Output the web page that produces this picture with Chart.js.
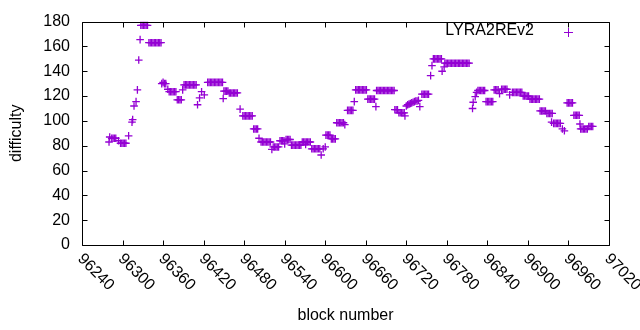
<!DOCTYPE html>
<html>
<head>
<meta charset="utf-8">
<script src="https://cdn.jsdelivr.net/npm/chart.js@4.4.1/dist/chart.umd.min.js"></script>
<style>
html,body{margin:0;padding:0;background:#fff;}
#wrap{width:640px;height:330px;position:relative;}
</style>
</head>
<body>
<div id="wrap"><canvas id="c" width="640" height="330"></canvas></div>
<script>
// ---- data ----
const seriesName = "LYRA2REv2";
const xTicks = [96240,96300,96360,96420,96480,96540,96600,96660,96720,96780,96840,96900,96960,97020];
const yTicks = [0,20,40,60,80,100,120,140,160,180];
const blocks = [
96280,96281,96284,96286,96288,96290,96294,
96297,96299,96301,96303,96305,96309,
96314,96315,96317,96320,96322,96324,96326,
96327,96329,96331,96333,96335,96337,
96339,96341,96343,96345,96347,96349,96351,96353,96355,96357,
96358,96360,96362,96364,96367,
96369,96371,96373,96375,96377,96379,
96381,96383,96385,96387,96389,
96391,96393,96395,96397,96399,96401,96403,96405,96407,96409,
96411,96414,96417,96421,
96426,96428,96430,96432,96434,96436,96438,96440,96442,96444,96446,96448,
96449,96450,96452,96454,96456,
96458,96460,96462,96464,96466,96468,96470,
96474,96478,96480,96482,96484,96486,96488,96490,96492,
96494,96496,96498,96500,96502,
96505,96507,96509,96511,96513,96515,96517,96519,
96521,96523,96525,96527,96529,96531,
96533,96535,96537,96539,96540,
96542,96544,96546,96548,
96550,96552,96554,96556,96558,96560,96562,96564,
96566,96568,96570,96571,96572,96574,96576,96578,
96580,96582,96584,96586,96588,96590,96592,
96594,96597,96600,
96601,96603,96605,96607,96609,96611,96613,96615,
96617,96619,96621,96623,96625,96627,96629,
96633,96635,96637,96639,96641,96643,
96645,96647,96649,96651,96653,96655,96657,96659,96661,
96663,96665,96667,96669,96671,96673,96675,
96676,96678,96680,96682,96684,96686,96688,96690,96692,96694,96696,96698,96700,96702,
96703,96705,96707,96709,96711,96713,96715,96717,96718,
96720,96722,96724,96726,96728,96730,96732,96734,96736,96738,96740,
96743,96745,96747,96749,96751,96753,
96756,96758,
96760,96762,96764,96766,96768,96770,96772,96773,96776,
96777,96779,96781,96783,96785,96787,96789,96791,96793,96795,96797,96799,96801,96803,96805,96807,96809,96811,96813,
96818,96819,96822,96824,
96826,96828,96830,96832,96834,96836,
96838,96840,96842,96844,96846,96848,
96850,96852,96854,96856,96858,
96861,96863,96865,96867,96869,96873,
96877,96879,96881,96883,96885,96887,96889,96891,
96893,96895,96897,96899,96901,
96903,96905,96907,96909,96911,96913,96915,96917,
96918,96920,96922,96924,96926,
96928,96930,96932,96934,96936,96935,
96938,96940,96942,96944,96946,96948,96951,96954,
96958,96960,96962,96964,96966,
96968,96970,96972,96974,96976,96977,
96978,96980,96982,96984,96986,96988,
96990,96992,96994,96996
];
const difficulty = [
83,87,86,86,86,86,84,
82,82,82,82,82,88,
99,101,112,115.5,125,149,165.5,
177,177,177,177,177,177,
163,163,163,163,163,163,163,163,163,163,
130,131,130,130,125.5,
123.5,123.5,123.5,123.5,123.5,123.5,
117,117,117,117,125,
129,129,129,129,129,129,129,129,129,129,
113,118.5,123.5,121,
131,131,131,131,131,131,131,131,131,131,131,131,
118,124,124,124,124,
122.5,122.5,122.5,122.5,122.5,122.5,122.5,
109.5,104,104,104,104,104,104,104,104,
93.5,93.5,93.5,93.5,86,
83,83,83,83,83,83,83,83,
77,79,79,79,79,79,
84,84,84,84,81.5,
85,85,85,85,
80.5,80.5,80.5,80.5,80.5,80.5,80.5,80.5,
83,83,83,81,83,83,83,83,
77.5,77.5,77.5,77.5,77.5,77.5,77.5,
72.5,77.5,79,
88.5,88.5,88.5,88.5,85.5,85.5,85.5,85.5,
98.5,98.5,98.5,98.5,98.5,98.5,97,
108.5,108.5,108.5,108.5,108.5,115.5,
125,125,125,125,125,125,125,125,125,
117.5,117.5,117.5,117.5,117.5,117.5,111.5,
124.5,124.5,124.5,124.5,124.5,124.5,124.5,124.5,124.5,124.5,124.5,124.5,124.5,124.5,
109,109,109,106.5,106.5,106.5,106.5,106.5,104,
112,113,113.5,114,114.5,115,115.5,116,116,116.5,111.5,
121.5,121.5,121.5,121.5,121.5,121.5,
136.5,144.5,
150,150,150,150,150,150,150,140,143.5,
146.5,146.5,146.5,146.5,146.5,146.5,146.5,146.5,146.5,146.5,146.5,146.5,146.5,146.5,146.5,146.5,146.5,146.5,146.5,
110,115,119.5,123,
124.5,124.5,124.5,124.5,124.5,124.5,
115.5,115.5,115.5,115.5,115.5,115.5,
125,125,125,125,122,
125.5,125.5,125.5,125.5,125.5,121,
123,123,123,123,123,123,123,123,
120,120,120,120,120,
117.5,117.5,117.5,117.5,117.5,117.5,117.5,117.5,
108,108,108,108,108,
106,106,106,106,106,99,
98,98,98,98,98,98,93.5,92,
114.5,114.5,114.5,114.5,114.5,
104.5,104.5,104.5,104.5,104.5,97.5,
93.5,93.5,93.5,93.5,93.5,93.5,
95.5,95.5,95.5,95.5
];
const xTitle = "block number";
const yTitle = "difficulty";
// ---------------------------------------------

const COLOR = '#9400d3';
const FONT = '"Liberation Sans", Arial, sans-serif';
const FS = 16;

const points = blocks.map((b, i) => ({x: b, y: difficulty[i]}));

const framePlugin = {
  id: 'frame',
  afterDraw(chart) {
    const ctx = chart.ctx;
    const xs = chart.scales.x, ys = chart.scales.y;
    const a = chart.chartArea;
    const L = Math.round(a.left) + 0.5, R = Math.round(a.right) + 0.5;
    const T = Math.round(a.top) + 0.5, B = Math.round(a.bottom) + 0.5;
    ctx.save();
    ctx.strokeStyle = '#000';
    ctx.lineWidth = 1;
    ctx.beginPath();
    ctx.rect(L, T, R - L, B - T);
    const tl = 5;
    xTicks.forEach(v => {
      const px = Math.round(xs.getPixelForValue(v)) + 0.5;
      ctx.moveTo(px, B); ctx.lineTo(px, B - tl);
      ctx.moveTo(px, T); ctx.lineTo(px, T + tl);
    });
    yTicks.forEach(v => {
      const py = Math.round(ys.getPixelForValue(v)) + 0.5;
      ctx.moveTo(L, py); ctx.lineTo(L + tl, py);
      ctx.moveTo(R, py); ctx.lineTo(R - tl, py);
    });
    ctx.stroke();

    ctx.fillStyle = '#000';
    ctx.font = FS + 'px ' + FONT;
    // x tick labels rotated -45 (reading downward)
    xTicks.forEach(v => {
      const px = xs.getPixelForValue(v);
      ctx.save();
      ctx.translate(px - 2, B + 11);
      ctx.rotate(Math.PI / 4);
      ctx.textAlign = 'left';
      ctx.textBaseline = 'middle';
      ctx.fillText(String(v), 0, 0);
      ctx.restore();
    });
    // axis titles
    ctx.textAlign = 'center';
    ctx.textBaseline = 'middle';
    ctx.fillText(xTitle, (a.left + a.right) / 2, 316);
    ctx.save();
    ctx.translate(17, (a.top + a.bottom) / 2);
    ctx.rotate(-Math.PI / 2);
    ctx.fillText(yTitle, 0, 0);
    ctx.restore();
    // key
    ctx.textAlign = 'right';
    ctx.fillText(seriesName, 534, 31);
    ctx.strokeStyle = COLOR;
    ctx.beginPath();
    ctx.moveTo(564, 32.5); ctx.lineTo(573, 32.5);
    ctx.moveTo(568.5, 28); ctx.lineTo(568.5, 37);
    ctx.stroke();
    ctx.restore();
  }
};

new Chart(document.getElementById('c'), {
  type: 'scatter',
  data: {
    datasets: [{
      label: seriesName,
      data: points,
      showLine: false,
      pointStyle: 'cross',
      pointRadius: 3.8,
      pointHoverRadius: 3.8,
      borderColor: COLOR,
      backgroundColor: COLOR,
      borderWidth: 1.3
    }]
  },
  options: {
    responsive: false,
    animation: false,
    events: [],
    layout: {padding: {top: 19, right: 31, left: 0, bottom: 0}},
    plugins: {legend: {display: false}, tooltip: {enabled: false}},
    scales: {
      x: {
        type: 'linear', min: 96240, max: 97020,
        afterBuildTicks: s => { s.ticks = xTicks.map(v => ({value: v})); },
        afterFit: s => { s.height = 85; },
        grid: {display: false, drawTicks: false},
        border: {display: false},
        ticks: {display: false}
      },
      y: {
        type: 'linear', min: 0, max: 180,
        afterBuildTicks: s => { s.ticks = yTicks.map(v => ({value: v})); },
        afterFit: s => { s.width = 82; },
        grid: {display: false, drawTicks: false},
        border: {display: false},
        ticks: {color: '#000', padding: 12, font: {family: FONT, size: FS}}
      }
    }
  },
  plugins: [framePlugin]
});
</script>
</body>
</html>
